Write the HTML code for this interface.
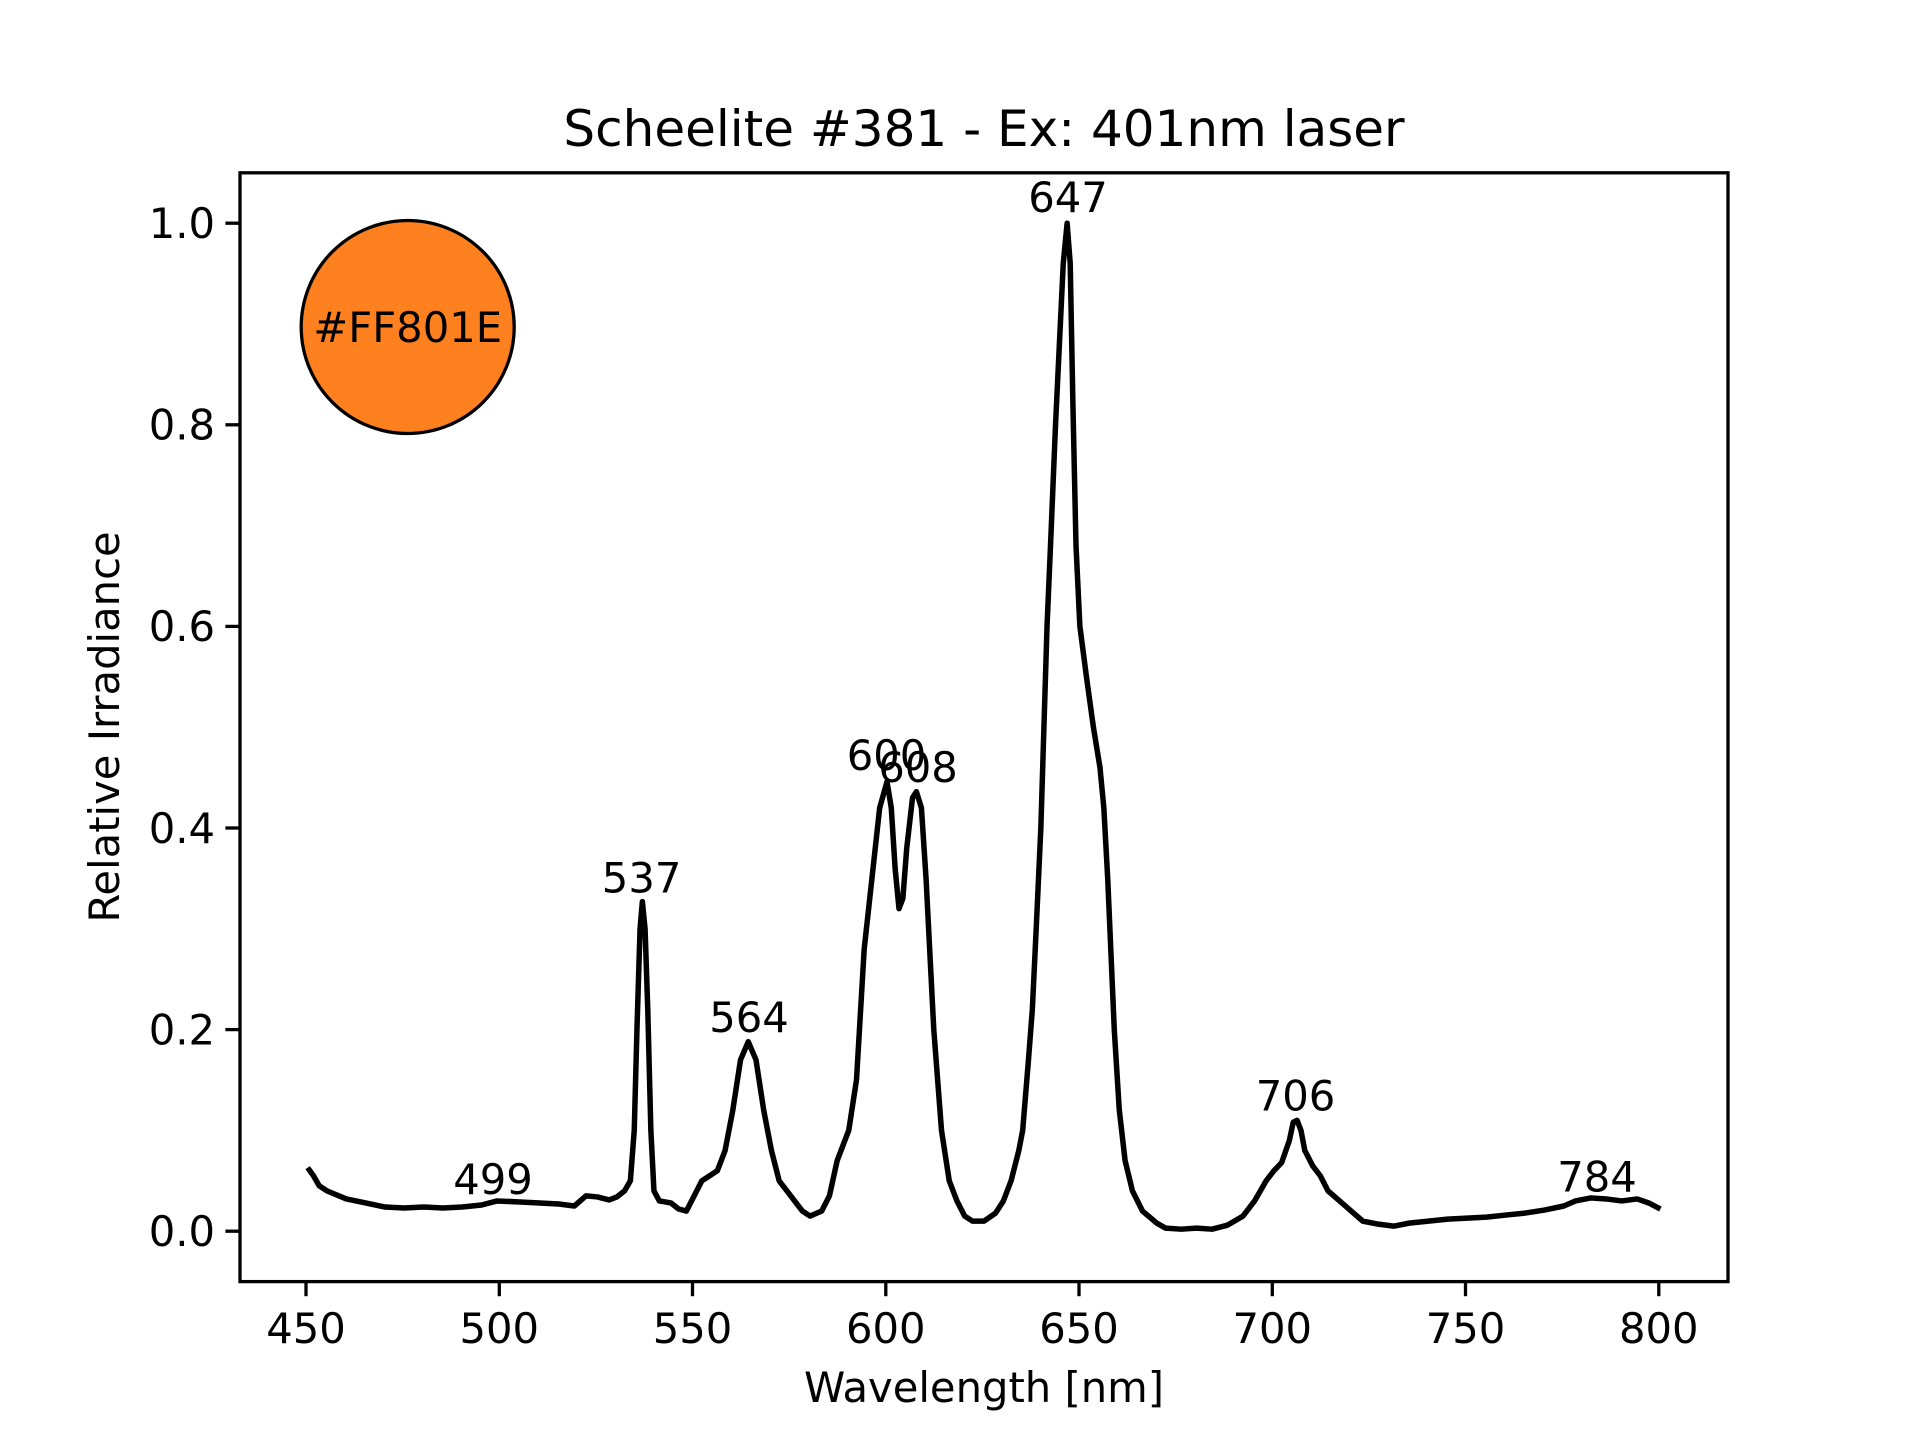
<!DOCTYPE html>
<html><head><meta charset="utf-8"><style>
html,body{margin:0;padding:0;background:#fff}
svg{display:block}
text{font-family:"DejaVu Sans","Liberation Sans",sans-serif;fill:#000}
</style></head><body>
<svg width="1920" height="1440" viewBox="0 0 1920 1440" xmlns="http://www.w3.org/2000/svg">
<rect width="1920" height="1440" fill="#fff"/>
<g transform="translate(-1431.6,1231.2) scale(3.865,-1008)">
<path fill="none" stroke="#000" stroke-width="5.5" vector-effect="non-scaling-stroke" stroke-linejoin="round" d="M450,0.063 L451.5,0.055 453,0.045 455,0.04 460,0.032 465,0.028 470,0.024 475,0.023 480,0.024 485,0.023 490,0.024 495,0.026 499,0.03 505,0.029 510,0.028 515,0.027 519,0.025 522,0.035 525,0.034 528,0.031 530,0.034 532,0.04 533.5,0.05 534.5,0.1 535.2,0.2 536,0.30 536.6,0.327 537.3,0.3 538,0.22 538.8,0.1 539.6,0.04 541,0.03 544,0.028 546,0.022 548,0.02 550,0.035 552,0.05 554,0.055 556,0.06 558,0.08 560,0.12 562,0.17 564,0.188 566,0.17 568,0.12 570,0.08 572,0.05 575,0.035 578,0.02 580,0.015 583,0.02 585,0.035 587,0.07 590,0.1 592,0.15 594,0.28 596,0.35 598,0.42 599.9,0.446 601,0.42 602,0.36 603,0.32 604,0.33 605,0.38 606.5,0.43 607.5,0.436 608.8,0.42 610,0.35 612,0.2 614,0.1 616,0.05 618,0.03 620,0.015 622,0.01 625,0.01 628,0.018 630,0.03 632,0.05 634,0.08 635,0.1 636.5,0.17 637.5,0.22 638.5,0.3 639.7,0.4 640.5,0.5 641.3,0.6 642.2,0.68 643.5,0.8 644.5,0.88 645.5,0.96 646.5,1.0 647.3,0.96 648,0.82 648.8,0.68 649.8,0.6 651.5,0.55 653.3,0.5 655,0.46 656,0.42 657,0.35 658.7,0.2 660,0.12 661.5,0.07 663.4,0.04 666,0.02 669.7,0.008 672,0.003 676,0.002 680,0.003 684,0.002 688,0.006 692,0.015 695,0.03 698,0.05 700,0.06 702,0.068 704,0.09 705,0.108 706,0.11 707,0.1 708,0.08 710,0.065 712,0.055 714,0.04 717,0.03 720,0.02 723,0.01 727,0.007 731,0.005 735,0.008 740,0.01 745,0.012 750,0.013 755,0.014 760,0.016 765,0.018 770,0.021 775,0.025 778,0.03 782,0.033 786,0.032 790,0.03 794,0.032 797,0.028 800,0.022"/>
</g>
<circle cx="407.7" cy="327" r="106.5" fill="#FF801E" stroke="#000" stroke-width="3.3"/>
<text x="407.7" y="342" font-size="41.7" text-anchor="middle">#FF801E</text>
<rect x="240" y="172.8" width="1488" height="1108.8" fill="none" stroke="#000" stroke-width="3.3"/>
<g stroke="#000" stroke-width="3.3">
<line x1="306" y1="1281.6" x2="306" y2="1296.2"/><line x1="499.3" y1="1281.6" x2="499.3" y2="1296.2"/><line x1="692.5" y1="1281.6" x2="692.5" y2="1296.2"/><line x1="885.8" y1="1281.6" x2="885.8" y2="1296.2"/><line x1="1079" y1="1281.6" x2="1079" y2="1296.2"/><line x1="1272.3" y1="1281.6" x2="1272.3" y2="1296.2"/><line x1="1465.5" y1="1281.6" x2="1465.5" y2="1296.2"/><line x1="1658.8" y1="1281.6" x2="1658.8" y2="1296.2"/>
<line x1="225.4" y1="1231.2" x2="240" y2="1231.2"/><line x1="225.4" y1="1029.6" x2="240" y2="1029.6"/><line x1="225.4" y1="828" x2="240" y2="828"/><line x1="225.4" y1="626.4" x2="240" y2="626.4"/><line x1="225.4" y1="424.8" x2="240" y2="424.8"/><line x1="225.4" y1="223.2" x2="240" y2="223.2"/>
</g>
<g font-size="41.7" text-anchor="middle">
<text x="306" y="1343">450</text><text x="499.3" y="1343">500</text><text x="692.5" y="1343">550</text><text x="885.8" y="1343">600</text><text x="1079" y="1343">650</text><text x="1272.3" y="1343">700</text><text x="1465.5" y="1343">750</text><text x="1658.8" y="1343">800</text>
</g>
<g font-size="41.7" text-anchor="end">
<text x="215" y="1246">0.0</text><text x="215" y="1044.4">0.2</text><text x="215" y="842.8">0.4</text><text x="215" y="641.2">0.6</text><text x="215" y="439.6">0.8</text><text x="215" y="238">1.0</text>
</g>
<text x="984" y="1402" font-size="41.7" text-anchor="middle">Wavelength [nm]</text>
<text transform="translate(119,727) rotate(-90)" font-size="41.7" text-anchor="middle">Relative Irradiance</text>
<text x="984" y="146" font-size="50" text-anchor="middle">Scheelite #381 - Ex: 401nm laser</text>
<g font-size="41.7" text-anchor="middle">
<text x="493" y="1194">499</text><text x="641.6" y="892.6">537</text><text x="749" y="1032">564</text><text x="886.5" y="770">600</text><text x="918" y="782">608</text><text x="1068" y="212">647</text><text x="1295.5" y="1110.6">706</text><text x="1597" y="1191.4">784</text>
</g>
</svg>
</body></html>
